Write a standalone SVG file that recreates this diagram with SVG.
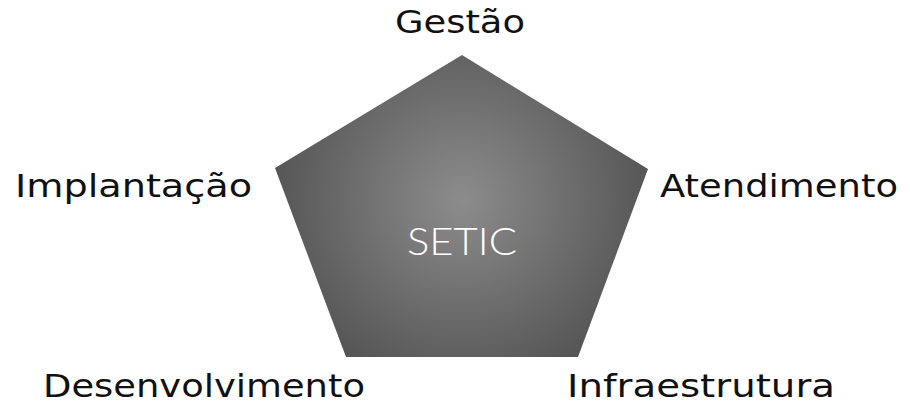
<svg xmlns="http://www.w3.org/2000/svg" width="910" height="407" viewBox="0 0 910 407">
<defs>
<radialGradient id="g" gradientUnits="userSpaceOnUse" cx="462" cy="200" r="210">
<stop offset="0" stop-color="#8c8c8c"/>
<stop offset="1" stop-color="#505050"/>
</radialGradient>
<style>
.lbl{font-family:"DejaVu Sans","Noto Sans",sans-serif;font-size:32.5px;fill:#111;}
.ctr{font-family:"Lato","Open Sans",sans-serif;font-weight:300;font-size:38px;fill:#fff;}
</style>
</defs>
<rect width="910" height="407" fill="#fff"/>
<g id="setic">
<polygon points="462,55 648,169 578,357 346,357 275,168" fill="url(#g)"/>
<text class="ctr" x="462" y="255" text-anchor="middle" textLength="110" lengthAdjust="spacingAndGlyphs">SETIC</text>
</g>
<g id="gestao"><text class="lbl" x="395" y="33" textLength="130" lengthAdjust="spacingAndGlyphs">Gestão</text></g>
<g id="implantacao"><text class="lbl" x="15" y="197" textLength="237" lengthAdjust="spacingAndGlyphs">Implantação</text></g>
<g id="atendimento"><text class="lbl" x="660" y="197" textLength="238" lengthAdjust="spacingAndGlyphs">Atendimento</text></g>
<g id="desenvolvimento"><text class="lbl" x="43" y="397" textLength="322" lengthAdjust="spacingAndGlyphs">Desenvolvimento</text></g>
<g id="infraestrutura"><text class="lbl" x="567" y="397" textLength="268" lengthAdjust="spacingAndGlyphs">Infraestrutura</text></g>
<g id="connectors"/>
</svg>
